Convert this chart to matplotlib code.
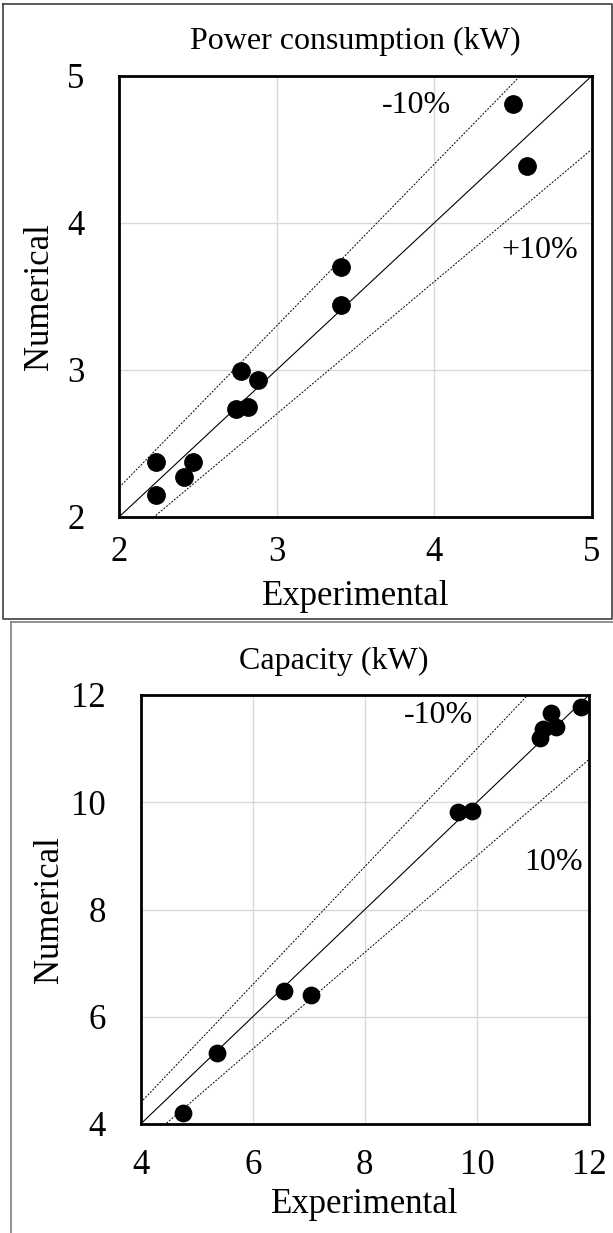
import numpy as np
import matplotlib
matplotlib.use("Agg")
import matplotlib.pyplot as plt
from matplotlib.lines import Line2D

plt.rcParams["font.family"] = ["Liberation Serif", "DejaVu Serif"]

# Power consumption (kW)
power_exp = [4.50, 4.59, 3.41, 3.41, 2.77, 2.88, 2.74, 2.82, 2.23, 2.47, 2.41, 2.23]
power_num = [4.81, 4.39, 3.70, 3.44, 2.99, 2.93, 2.73, 2.75, 2.37, 2.37, 2.27, 2.15]
power_ticks = [2, 3, 4, 5]

# Capacity (kW)
cap_exp = [11.85, 11.32, 11.41, 11.18, 11.12, 9.66, 9.92, 6.56, 7.04, 5.36, 4.75]
cap_num = [11.78, 11.67, 11.41, 11.36, 11.20, 9.82, 9.84, 6.48, 6.41, 5.32, 4.21]
cap_ticks = [4, 6, 8, 10, 12]

W, H = 613, 1233
fig = plt.figure(figsize=(W / 100, H / 100), dpi=100)


def panel(rect, xs, ys, ticks, title, title_x, lbl_lo, lbl_hi, ms,
          xpad, ypad, xlpad, ylpad):
    ax = fig.add_axes(rect)
    lo, hi = ticks[0], ticks[-1]
    line = np.array([lo, hi])
    ax.plot(line, line, color="black", lw=0.8, zorder=2)
    ax.plot(line, 1.1 * line, color="black", lw=0.7, ls=(0, (2, 1.5)), zorder=2)
    ax.plot(line, 0.9 * line, color="black", lw=0.7, ls=(0, (2, 1.5)), zorder=2)
    ax.plot(xs, ys, "o", color="black", ms=ms, zorder=3, clip_on=False)
    ax.set_xlim(lo, hi)
    ax.set_ylim(lo, hi)
    ax.set_xticks(ticks)
    ax.set_yticks(ticks)
    ax.grid(color="#d9d9d9", lw=1.0)
    ax.set_axisbelow(True)
    for s in ax.spines.values():
        s.set_linewidth(2.0)
    ax.tick_params(length=0, labelsize=25)
    ax.tick_params(axis="x", pad=xpad)
    ax.tick_params(axis="y", pad=ypad)
    ax.set_xlabel("Experimental", fontsize=25, labelpad=xlpad)
    ax.set_ylabel("Numerical", fontsize=25, labelpad=ylpad)
    ax.text(title_x, 1.045, title, transform=ax.transAxes, fontsize=23,
            ha="center", va="bottom")
    ax.text(lbl_lo[0], lbl_lo[1], "-10%", fontsize=23, ha="center", va="center")
    ax.text(lbl_hi[0], lbl_hi[1], lbl_hi[2], fontsize=23, ha="center", va="center")
    return ax


ax1 = panel([119.3 / W, 1 - 516.7 / H, 472.4 / W, 440.7 / H],
            power_exp, power_num, power_ticks, "Power consumption (kW)",
            0.5, (3.89, 4.80), (4.67, 3.81, "+10%"), 12.5, 14, 25, 8, 8)

ax2 = panel([140.7 / W, 1 - 1124 / H, 448.3 / W, 429 / H],
            cap_exp, cap_num, cap_ticks, "Capacity (kW)",
            0.43, (9.31, 11.62), (11.37, 8.88, "10%"), 11.8, 18, 25, 4, 4)

# panel frames
fig.add_artist(Line2D([3 / W, 612 / W, 612 / W, 3 / W, 3 / W],
                      [1 - 4 / H, 1 - 4 / H, 1 - 619 / H, 1 - 619 / H, 1 - 4 / H],
                      color="#404040", lw=1.2))
fig.add_artist(Line2D([11 / W, 11 / W], [0, 1 - 622 / H], color="#808080", lw=1.2))
fig.add_artist(Line2D([11 / W, 1], [1 - 622 / H, 1 - 622 / H], color="#808080", lw=1.2))

fig.savefig("out.png", dpi=100)
